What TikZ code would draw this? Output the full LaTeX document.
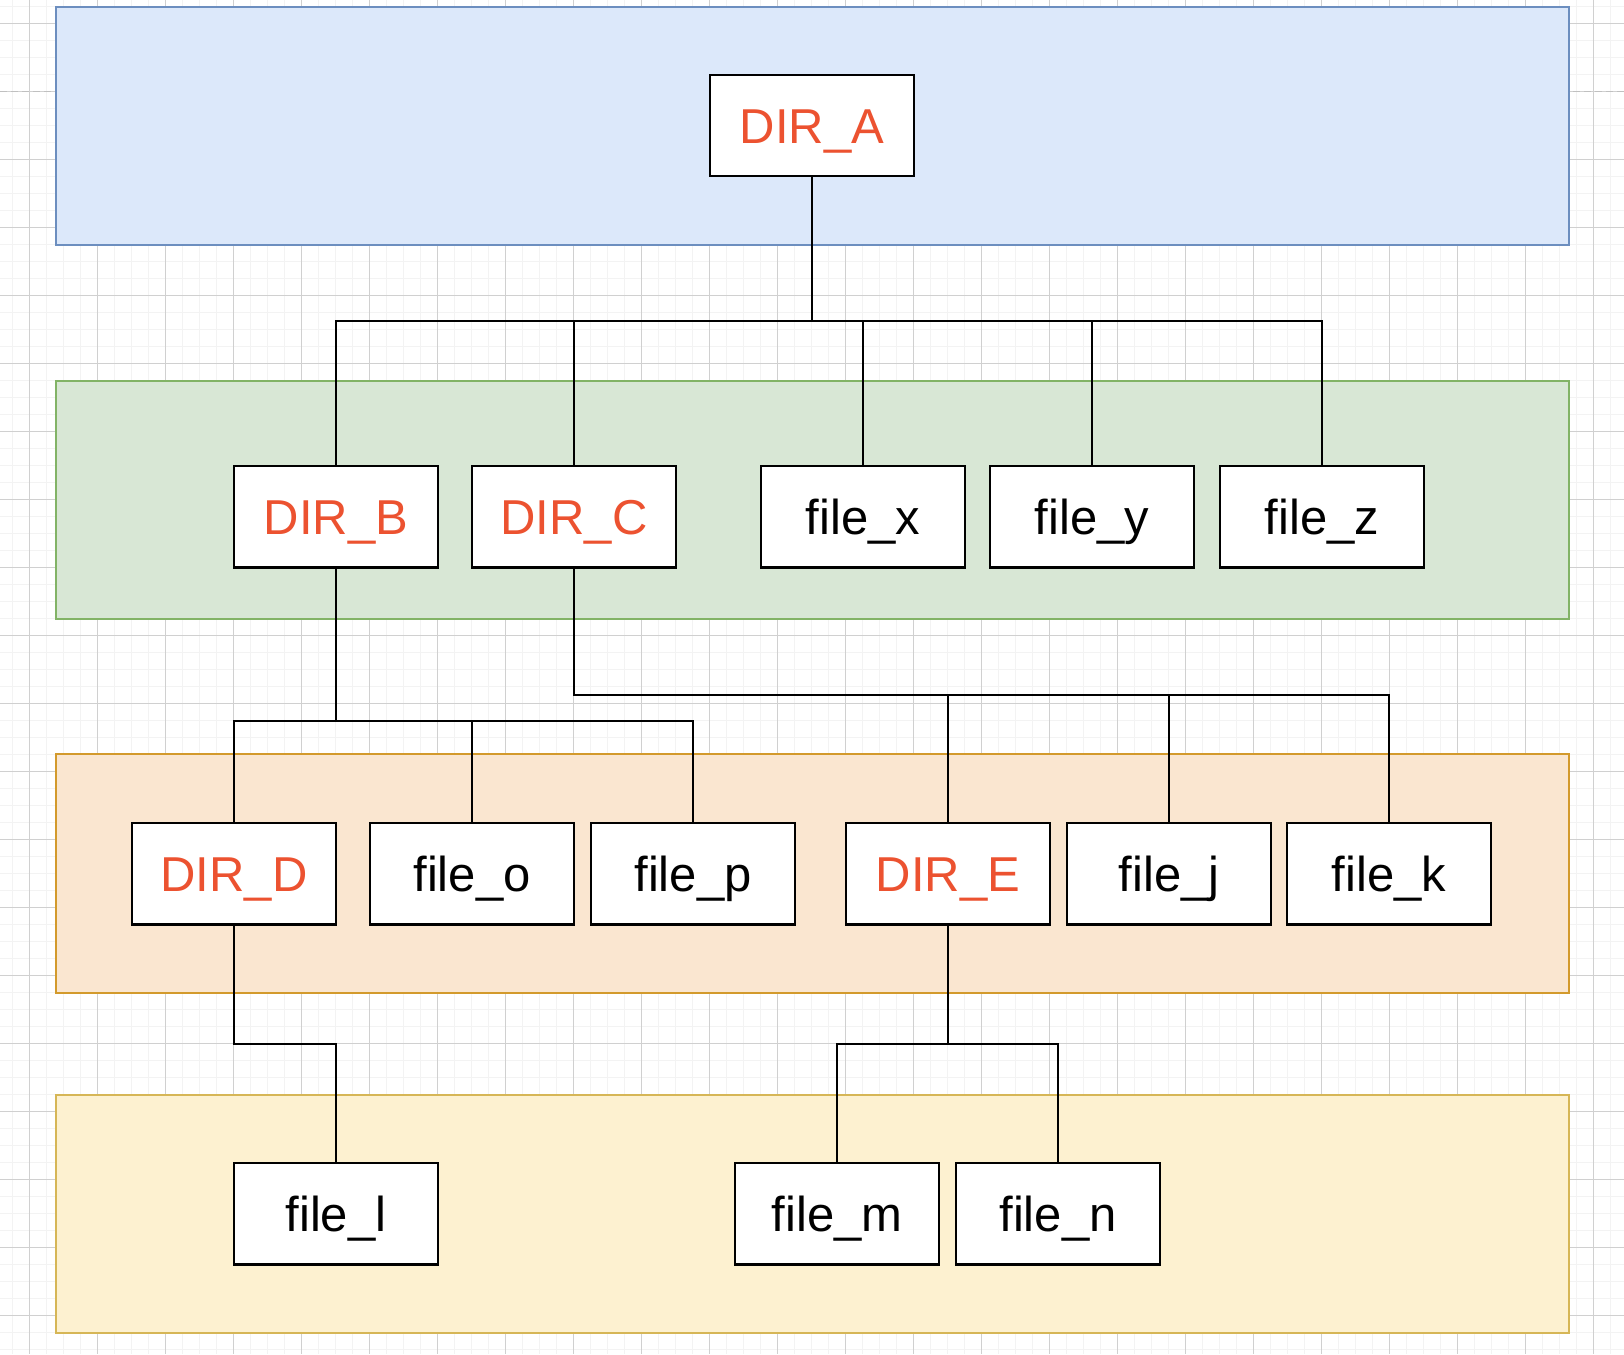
\documentclass[tikz,border=0pt]{standalone}
\usepackage{fontspec}
\setmainfont{Liberation Sans}
\definecolor{dirred}{HTML}{EC5230}
\definecolor{bluefill}{HTML}{DCE8FA}
\definecolor{bluedraw}{HTML}{6C8EBF}
\definecolor{greenfill}{HTML}{D8E7D5}
\definecolor{greendraw}{HTML}{82B366}
\definecolor{orangefill}{HTML}{FAE6D0}
\definecolor{orangedraw}{HTML}{D39A2C}
\definecolor{yellowfill}{HTML}{FDF1D0}
\definecolor{yellowdraw}{HTML}{D6B656}
\definecolor{gridminor}{HTML}{F3F3F3}
\definecolor{gridmajor}{HTML}{D0D0D0}
\definecolor{pagebreak}{HTML}{C0C0C0}
\begin{document}
\begin{tikzpicture}[x=1pt,y=-1pt,
  box/.style={draw=black, line width=2.2pt, fill=white, minimum width=204pt,
    minimum height=101.5pt, inner sep=0pt, text height=35pt, text depth=0pt,
    font=\fontsize{49}{59}\selectfont},
  dirbox/.style={box, text=dirred},
  band/.style={line width=2pt},
  conn/.style={draw=black, line width=2pt},
  minorline/.style={draw=gridminor, line width=1.5pt},
  majorline/.style={draw=gridmajor, line width=1pt}]
\useasboundingbox (0,0) rectangle (1624,1354);
\fill[white] (0,0) rectangle (1624,1354);
% grid
\foreach \i in {-1,...,94} { \draw[minorline] ({29.3+17*\i},0) -- ({29.3+17*\i},1354); }
\foreach \j in {-1,...,79} { \draw[minorline] (0,{23.3+17*\j}) -- (1624,{23.3+17*\j}); }
\foreach \i in {0,...,23} { \draw[majorline] ({29.3+68*\i},0) -- ({29.3+68*\i},1354); }
\foreach \j in {0,...,19} { \draw[majorline] (0,{23.3+68*\j}) -- (1624,{23.3+68*\j}); }
\draw[pagebreak, line width=1.5pt, dash pattern=on 7pt off 4pt] (0,91.6) -- (1624,91.6);
% bands
\draw[band, draw=bluedraw, fill=bluefill] (55.5,6.7) rectangle (1568.7,245);
\draw[band, draw=greendraw, fill=greenfill] (55.5,380.7) rectangle (1568.7,619);
\draw[band, draw=orangedraw, fill=orangefill] (55.5,754.3) rectangle (1568.7,992.7);
\draw[band, draw=yellowdraw, fill=yellowfill] (55.5,1094.7) rectangle (1568.7,1332.7);
% nodes
\node[dirbox] (A) at (812,125.5) {DIR\_A};
\node[dirbox] (B) at (336,516.7) {DIR\_B};
\node[dirbox] (C) at (574,516.7) {DIR\_C};
\node[box] (fx) at (863,516.7) {file\_x};
\node[box] (fy) at (1092,516.7) {file\_y};
\node[box] (fz) at (1322,516.7) {file\_z};
\node[dirbox] (D) at (234,873.7) {DIR\_D};
\node[box] (fo) at (472,873.7) {file\_o};
\node[box] (fp) at (693,873.7) {file\_p};
\node[dirbox] (E) at (948,873.7) {DIR\_E};
\node[box] (fj) at (1169,873.7) {file\_j};
\node[box] (fk) at (1389,873.7) {file\_k};
\node[box] (fl) at (336,1213.7) {file\_l};
\node[box] (fm) at (837,1213.7) {file\_m};
\node[box] (fn) at (1058,1213.7) {file\_n};
% junctions
\coordinate (jA) at (812,321);
\coordinate (jB) at (336,721);
\coordinate (jC) at (574,695);
\coordinate (jD) at (234,1044);
\coordinate (jE) at (948,1044);
% connectors
\foreach \c in {B,C,fx,fy,fz} { \draw[conn] (A.south) -- (jA) -| (\c.north); }
\foreach \c in {D,fo,fp} { \draw[conn] (B.south) -- (jB) -| (\c.north); }
\foreach \c in {E,fj,fk} { \draw[conn] (C.south) -- (jC) -| (\c.north); }
\draw[conn] (D.south) -- (jD) -| (fl.north);
\foreach \c in {fm,fn} { \draw[conn] (E.south) -- (jE) -| (\c.north); }
\end{tikzpicture}
\end{document}
